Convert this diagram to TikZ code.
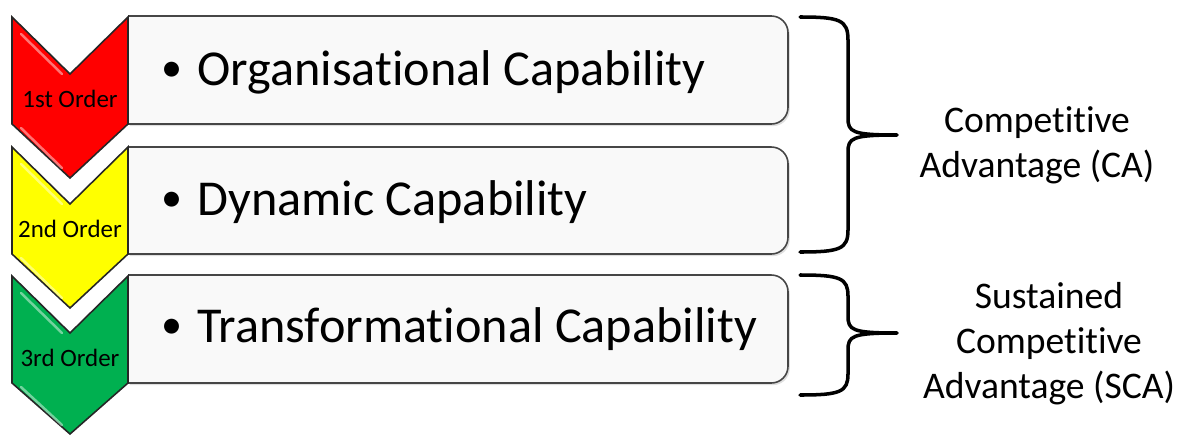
\documentclass[tikz,border=0pt]{standalone}
\usepackage{fontspec}
\setmainfont{Carlito}[Ligatures={NoCommon,NoContextual}]
\usepackage{xcolor}
\usetikzlibrary{shadows}

\definecolor{orderred}{RGB}{255,0,0}
\definecolor{orderyellow}{RGB}{255,255,0}
\definecolor{ordergreen}{RGB}{0,176,80}
\definecolor{boxfill}{RGB}{249,249,249}
\definecolor{boxline}{RGB}{70,70,70}

\newcommand{\capbullet}{\makebox[20.5pt][l]{\fontsize{24}{24}\selectfont\raisebox{1.9pt}{•}}}

\tikzset{
  chevron/.style={draw=black!85, line width=0.9pt, line join=miter},
  shine/.style={draw=white, opacity=0.45, line width=1.4pt, line cap=round},
  capbox/.style={draw=boxline, line width=0.9pt, fill=boxfill, rounded corners=9.5pt,
    drop shadow={opacity=0.25, shadow xshift=1pt, shadow yshift=-1.2pt}},
  captext/.style={anchor=base west, inner sep=0pt, font=\fontsize{28.6}{34}\selectfont},
  ordertext/.style={inner sep=0pt, font=\fontsize{14.2}{17}\selectfont},
  bracket/.style={line width=2pt, line cap=round, line join=round},
  advtext/.style={align=center, inner sep=0pt, font=\fontsize{21.4}{25.6}\selectfont}
}

\begin{document}
\begin{tikzpicture}[x=0.02cm, y=-0.02cm]
    \useasboundingbox (0,0) rectangle (1183,436);

    % Capability boxes
    \path[capbox] (128,16) -- (788,16) -- (788,124) -- (128,124);
    \path[capbox] (128,147) -- (788,147) -- (788,254) -- (128,254);
    \path[capbox] (128,275) -- (788,275) -- (788,383) -- (128,383);

    \node[captext] (orgcap) at (161,85) {\capbullet Organisational Capability};
    \node[captext] (dyncap) at (161,215) {\capbullet Dynamic Capability};
    \node[captext] (trfcap) at (161,342) {\capbullet Transformational Capability};

    % 1st Order
    \filldraw[chevron, fill=orderred] (12,17) -- (70,74) -- (128,17) -- (128,124) -- (70,178) -- (12,124) -- cycle;
    \draw[shine] (21,34) -- (62,74) (21,128) -- (62,168);
    \node[ordertext] (first) at (70,99) {1st Order};

    % 2nd Order
    \filldraw[chevron, fill=orderyellow] (12,147) -- (70,204) -- (128,147) -- (128,254) -- (70,308) -- (12,254) -- cycle;
    \draw[shine] (21,164) -- (62,204) (21,258) -- (62,298);
    \node[ordertext] (second) at (70,229) {2nd Order};

    % 3rd Order
    \filldraw[chevron, fill=ordergreen] (12,276) -- (70,333) -- (128,276) -- (128,383) -- (70,434) -- (12,383) -- cycle;
    \draw[shine] (21,293) -- (62,333) (21,387) -- (62,425);
    \node[ordertext] (third) at (70,358) {3rd Order};

    % Braces
    \draw[bracket] (800,17) .. controls (840,17) and (848,20) .. (848,40) -- (848,118)
        .. controls (848,132) and (852,135) .. (897,135)
        .. controls (852,135) and (848,138) .. (848,152) -- (848,230)
        .. controls (848,249) and (840,252) .. (800,252);
    \draw[bracket] (800,275) .. controls (840,275) and (848,278) .. (848,296) -- (848,316)
        .. controls (848,330) and (852,333) .. (897,333)
        .. controls (852,333) and (848,336) .. (848,350) -- (848,374)
        .. controls (848,392) and (840,395) .. (800,395);

    \node[advtext] (ca) at (1037,145) {Competitive\\Advantage (CA)};
    \node[advtext] (sca) at (1049,344) {Sustained\\Competitive\\Advantage (SCA)};
\end{tikzpicture}
\end{document}
